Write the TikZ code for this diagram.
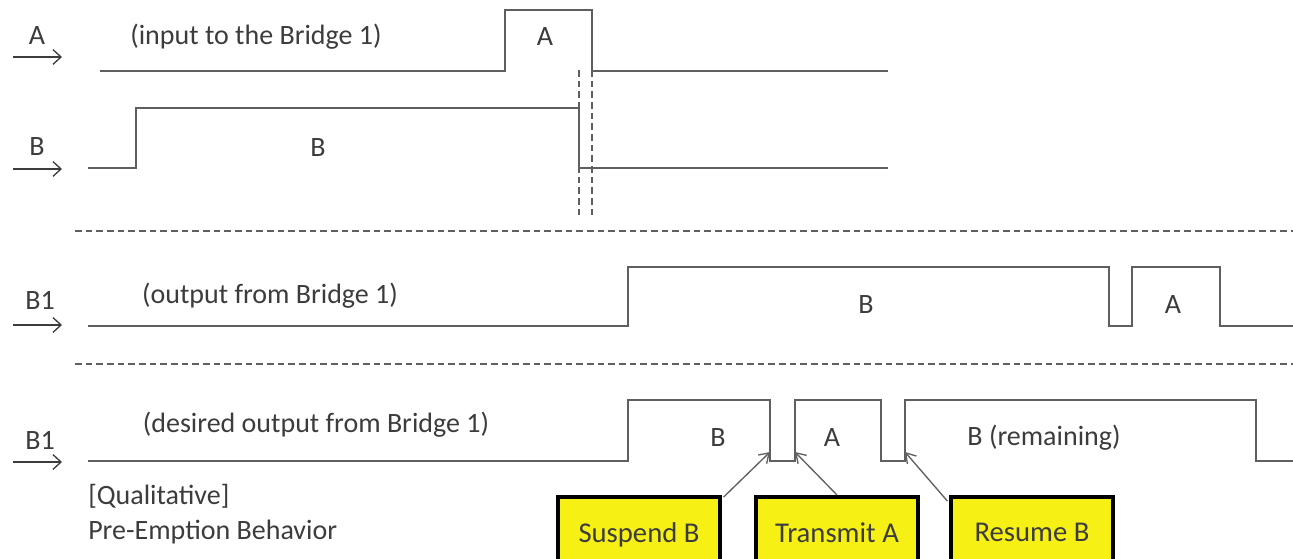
\documentclass[tikz,border=0pt]{standalone}
\usepackage{fontspec}
\setmainfont{Carlito}
\usetikzlibrary{arrows.meta}
\definecolor{wave}{RGB}{95,95,95}
\definecolor{txt}{RGB}{60,60,60}
\definecolor{boxyellow}{RGB}{246,240,20}
\tikzset{
  wavestyle/.style={draw=wave, line width=1.5pt, line join=miter},
  sep/.style={draw=wave, line width=1.2pt, dash pattern=on 5pt off 3pt},
  vdash/.style={draw=wave, line width=1.2pt, dash pattern=on 5pt off 3pt},
  lbl/.style={text=txt, font=\fontsize{21}{24}\selectfont, inner sep=0pt},
  inarrow/.style={draw=txt, line width=1pt, -{Straight Barb[length=6pt,width=11pt]}},
  callout/.style={draw=black, line width=3pt, fill=boxyellow, text=txt,
    font=\fontsize{21.5}{24}\selectfont, minimum width=121pt, minimum height=57pt, inner sep=0pt},
  pointer/.style={draw=wave, line width=1pt, -{Straight Barb[length=7pt,width=9pt]}}
}
\begin{document}
\begin{tikzpicture}[x=0.75pt,y=-0.75pt]
\useasboundingbox (0,0) rectangle (1293,559);

% row A
\node[lbl] (la) at (37,36) {A};
\coordinate (a0) at (13,57); \coordinate (a1) at (62,57);
\draw[inarrow] (a0) -- (a1);
\node[lbl] (ta) at (256,37) {(input to the Bridge 1)};
\draw[wavestyle] (100,71) -- (505,71) -- (505,10) -- (592,10) -- (592,71) -- (888,71);
\node[lbl] (pa) at (545,37) {A};

% row B
\node[lbl] (lb) at (37,147) {B};
\coordinate (b0) at (13,169); \coordinate (b1) at (62,169);
\draw[inarrow] (b0) -- (b1);
\draw[wavestyle] (88,168) -- (136,168) -- (136,108) -- (579,108) -- (579,168) -- (888,168);
\node[lbl] (pb) at (318,148) {B};

% vertical dashed
\draw[vdash] (579,70) -- (579,218);
\draw[vdash] (592,70) -- (592,218);

% separators
\draw[sep] (75,231) -- (1293,231);
\draw[sep] (75,364) -- (1293,364);

% row B1 output
\node[lbl] (lc) at (40,300) {B1};
\coordinate (c0) at (13,325); \coordinate (c1) at (62,325);
\draw[inarrow] (c0) -- (c1);
\node[lbl] (tc) at (270,296) {(output from Bridge 1)};
\draw[wavestyle] (88,326) -- (628,326) -- (628,267) -- (1109,267) -- (1109,326) -- (1132,326) -- (1132,267) -- (1220,267) -- (1220,326) -- (1293,326);
\node[lbl] (pc1) at (866,305) {B};
\node[lbl] (pc2) at (1173,305) {A};

% row B1 desired
\node[lbl] (ld) at (40,440) {B1};
\coordinate (d0) at (13,462); \coordinate (d1) at (62,462);
\draw[inarrow] (d0) -- (d1);
\node[lbl] (td) at (316,425) {(desired output from Bridge 1)};
\draw[wavestyle] (88,461) -- (628,461) -- (628,400) -- (770,400) -- (770,461) -- (795,461) -- (795,400) -- (881,400) -- (881,461) -- (905,461) -- (905,400) -- (1256,400) -- (1256,461) -- (1293,461);
\node[lbl] (pd1) at (718,438) {B};
\node[lbl] (pd2) at (832,438) {A};
\node[lbl] (pd3) at (1044,438) {B (remaining)};

\node[lbl, anchor=west] (q1) at (88,496) {[Qualitative]};
\node[lbl, anchor=west] (q2) at (88,532) {Pre-Emption Behavior};

% callouts
\node[callout] (s) at (639,535) {\raisebox{4pt}{Suspend B}};
\node[callout] (t) at (837,535) {\raisebox{4pt}{Transmit A}};
\node[callout] (r) at (1032,535) {\raisebox{4pt}{Resume B}};

\coordinate (ps) at (770,452);
\coordinate (pt) at (795,452);
\coordinate (pr) at (905,452);
\draw[pointer] (s.north east) ++(2,2) -- (ps);
\draw[pointer] (t.north) -- (pt);
\draw[pointer] (r.north west) ++(-2,6) -- (pr);
\end{tikzpicture}
\end{document}
